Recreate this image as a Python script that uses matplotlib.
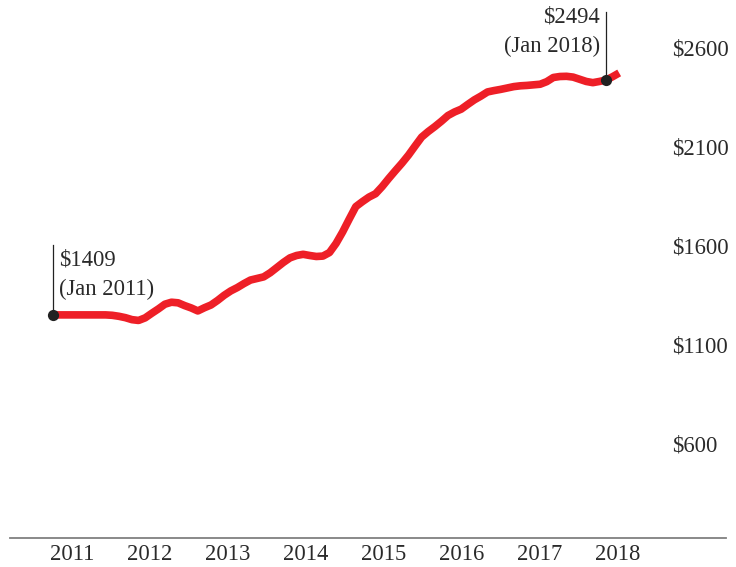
import matplotlib
matplotlib.use("Agg")
import matplotlib.pyplot as plt
import numpy as np

# ---- data ----
start_year = 2011
rent = [1247, 1247, 1247, 1247, 1247, 1247, 1247, 1247, 1247, 1245, 1240, 1233,
        1223, 1219, 1232, 1255, 1277, 1301, 1311, 1308, 1294, 1282, 1267, 1283,
        1297, 1320, 1346, 1368, 1385, 1405, 1423, 1431, 1439, 1460, 1486, 1512,
        1535, 1547, 1553, 1547, 1542, 1544, 1562, 1608, 1666, 1731, 1794, 1819,
        1842, 1859, 1895, 1936, 1975, 2013, 2054, 2100, 2145, 2173, 2198, 2225,
        2254, 2272, 2286, 2310, 2333, 2352, 2373, 2380, 2386, 2393, 2400, 2404,
        2406, 2409, 2412, 2425, 2446, 2451, 2452, 2448, 2437, 2426, 2420, 2426,
        2433, 2450, 2469]
years = [2011, 2012, 2013, 2014, 2015, 2016, 2017, 2018]
yticks = [600, 1100, 1600, 2100, 2600]
ytick_labels = ["$600", "$1100", "$1600", "$2100", "$2600"]
annot_idx = [0, 84]
annot_text = [("$1409", "(Jan 2011)"), ("$2494", "(Jan 2018)")]

plt.rcParams['font.family'] = ['Liberation Serif', 'DejaVu Serif']
FS = 16.3
TXT = "#2a2a2a"
RED = "#ee1f27"

t = start_year + np.arange(len(rent)) / 12.0

fig = plt.figure(figsize=(7.36, 5.67), dpi=100)
ax = fig.add_axes([10/736, 1 - 538/567, 716/736, 538/567])
ax.set_xlim(2010.456, 2019.519)
ax.set_ylim(120.2, 2837.4)

ax.plot(t, rent, color=RED, lw=5.5, solid_capstyle='butt', solid_joinstyle='round', zorder=2)

# annotations
i0, i1 = annot_idx
ax.plot([t[i0], t[i0]], [rent[i0], 1600], color="#222222", lw=0.9, zorder=3)
ax.plot([t[i1], t[i1]], [rent[i1], 2777], color="#222222", lw=0.9, zorder=3)
ax.scatter([t[i0], t[i1]], [rent[i0], rent[i1]], s=65, color="#222222", zorder=4, linewidths=0)

ax.text(t[i0] + 0.075, 1524, annot_text[0][0], ha='left', va='center', fontsize=FS, color=TXT)
ax.text(t[i0] + 0.075, 1378, annot_text[0][1], ha='left', va='center', fontsize=FS, color=TXT)
ax.text(t[i1] - 0.075, 2752, annot_text[1][0], ha='right', va='center', fontsize=FS, color=TXT)
ax.text(t[i1] - 0.075, 2605, annot_text[1][1], ha='right', va='center', fontsize=FS, color=TXT)

# axes styling
for s in ['top', 'left', 'right']:
    ax.spines[s].set_visible(False)
ax.spines['bottom'].set_color("#808080")
ax.spines['bottom'].set_linewidth(1.3)

ax.set_xticks([2011.24 + (y - 2011) * 0.986 for y in years])
ax.set_xticklabels([str(y) for y in years])
ax.tick_params(axis='x', length=0, pad=4, labelsize=FS, labelcolor=TXT)

ax.yaxis.tick_right()
ax.set_yticks(yticks)
ax.set_yticklabels(ytick_labels)
ax.tick_params(axis='y', length=0, pad=-39, labelsize=FS, labelcolor=TXT)

fig.savefig("out.png", dpi=100)
